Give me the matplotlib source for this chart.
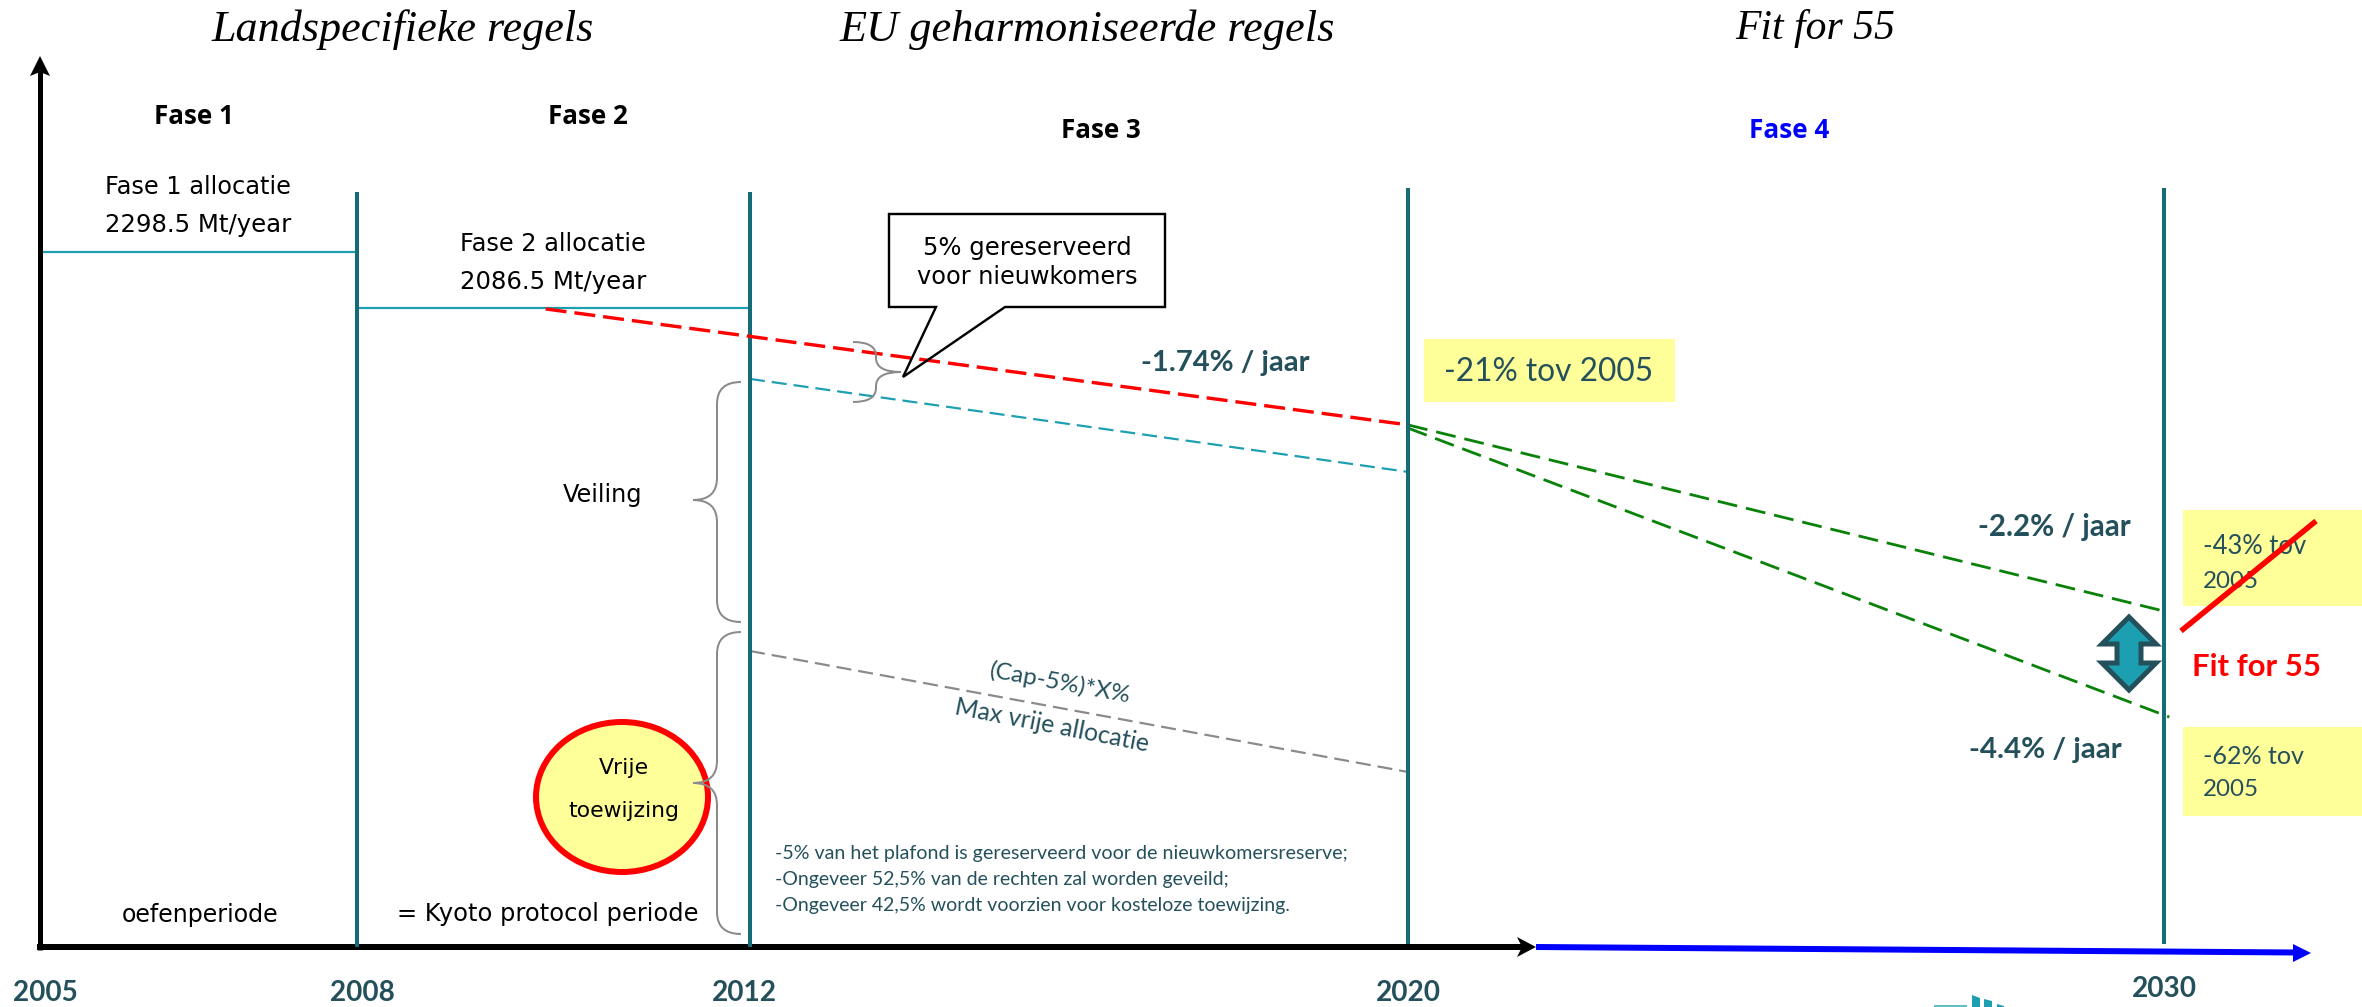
import numpy as np
import matplotlib
matplotlib.use("Agg")
import matplotlib.pyplot as plt
from matplotlib.patches import Polygon, Ellipse, Rectangle, PathPatch
from matplotlib.path import Path
from matplotlib.transforms import Affine2D

# ---------- data (years and Mt/year) ----------
YEAR_TICKS = [2005, 2008, 2012, 2020, 2030]
YEAR_LABELS = ["2005", "2008", "2012", "2020", "2030"]
PHASE_BOUNDS = [2008, 2012, 2020, 2030]

PHASE1_YEARS = [2005, 2008]
PHASE1_CAP = [2298.5, 2298.5]
PHASE2_YEARS = [2008, 2012]
PHASE2_CAP = [2086.5, 2086.5]
CAP_YEARS = [2009.92, 2020]
CAP_VALUES = [2083, 1644]
AUCTION_YEARS = [2012, 2020]
AUCTION_VALUES = [1818, 1466]
FREE_YEARS = [2012, 2020]
FREE_VALUES = [788, 330]
FF_LOW_YEARS = [2020, 2030]
FF_LOW_VALUES = [1644, 939]
FF_HIGH_YEARS = [2020, 2030.07]
FF_HIGH_VALUES = [1632, 538]

# ---------- styles ----------
W, H = 2362, 1007
TEAL = "#156b78"
CYAN = "#1c9fb0"
SLATE = "#24505c"
YELLOW = "#ffff99"
GRAY = "#8a8a8a"
GREEN = "#0a820a"
SCRIPT = "Liberation Serif"
SANS = "DejaVu Sans"
CAL = "Lato"
HEAD = "Open Sans"

plt.rcParams["lines.scale_dashes"] = False
PT = 0.72  # one pixel in points at dpi 100

fig = plt.figure(figsize=(W / 100, H / 100), dpi=100, facecolor="white")
ax = fig.add_axes([0, 0, 1, 1])
ax.axis("off")

# axis scales: the time axis of the schematic is piecewise linear
_yr = [2004.62, 2005, 2008, 2012, 2020, 2030, 2032.62]
_pos = [0, 40, 357, 750, 1408, 2164, 2362]
ax.set_xscale("function", functions=(lambda v: np.interp(v, _yr, _pos),
                                     lambda v: np.interp(v, _pos, _yr)))
ax.set_xlim(2004.62, 2032.62)
ax.set_ylim(-559.7, 3252.5)
ax.axis("off")

# pixel overlay for annotations (origin top-left)
px = Affine2D().scale(1, -1).translate(0, H)
renderer = fig.canvas.get_renderer()


def txt(x, y, s, width=None, size=20, color="black", family=SANS, weight="normal",
        style="normal", ha="center", rot=0, z=6):
    t = ax.text(x, y, s, transform=px, fontsize=size, color=color, family=family,
                weight=weight, style=style, ha=ha, va="center", rotation=0,
                rotation_mode="anchor", zorder=z)
    if width:
        w = t.get_window_extent(renderer).width
        t.set_fontsize(size * width / w)
    t.set_rotation(rot)
    return t


def poly(pts, fc, ec="none", lw=0, z=3):
    ax.add_patch(Polygon(pts, closed=True, transform=px, fc=fc, ec=ec, lw=lw * PT,
                         zorder=z, joinstyle="miter"))


def seg(xs, ys, color, lw, z=3, cap="butt"):
    ax.plot(xs, ys, transform=px, color=color, lw=lw * PT, zorder=z, solid_capstyle=cap)


def brace(xe, xs, xt, y0, ym, y1, r=22):
    """Curly brace from its two ends to its tip."""
    d = Path.CURVE3
    verts = [(xe, y0), (xs, y0), (xs, y0 + r), (xs, ym - r), (xs, ym), (xt, ym),
             (xs, ym), (xs, ym + r), (xs, y1 - r), (xs, y1), (xe, y1)]
    codes = [Path.MOVETO, d, d, Path.LINETO, d, d, d, d, Path.LINETO, d, d]
    ax.add_patch(PathPatch(Path(verts, codes), transform=px, fc="none", ec=GRAY,
                           lw=2 * PT, zorder=7))


# yellow note boxes
for x0, x1, y0, y1 in [(1424, 1675, 339, 402), (2183, 2362, 510, 606), (2183, 2362, 727, 816)]:
    ax.add_patch(Rectangle((x0, y0), x1 - x0, y1 - y0, transform=px, fc=YELLOW, ec="none", zorder=1))

# phase boundaries, from the years
for yr, top in zip(PHASE_BOUNDS, [192, 192, 188, 188]):
    bottom = -332 if yr <= 2012 else -320
    ytop = 2298.5 - (top - 252) * 212 / 56
    ax.plot([yr, yr], [bottom, ytop], color=TEAL, lw=4 * PT, zorder=4, solid_capstyle="butt")

# allocation lines
ax.plot(PHASE1_YEARS, PHASE1_CAP, color=CYAN, lw=2.2 * PT, zorder=3)
ax.plot(PHASE2_YEARS, PHASE2_CAP, color=CYAN, lw=2.2 * PT, zorder=3)
ax.plot(CAP_YEARS, CAP_VALUES, color="#ff0000", lw=3.4 * PT, ls=(0, (21 * PT, 8 * PT)), zorder=5)
ax.plot(AUCTION_YEARS, AUCTION_VALUES, color=CYAN, lw=2.2 * PT, ls=(0, (15 * PT, 7 * PT)), zorder=3)
ax.plot(FREE_YEARS, FREE_VALUES, color=GRAY, lw=2.2 * PT, ls=(0, (15 * PT, 7 * PT)), zorder=3)
ax.plot(FF_LOW_YEARS, FF_LOW_VALUES, color=GREEN, lw=2.8 * PT, ls=(0, (20 * PT, 9 * PT)), zorder=3)
ax.plot(FF_HIGH_YEARS, FF_HIGH_VALUES, color=GREEN, lw=2.8 * PT, ls=(0, (20 * PT, 9 * PT)), zorder=3)

# axes with arrow heads
seg([40, 40], [950, 70], "black", 5, z=5)
poly([(40, 56), (50, 76), (40, 72), (30, 76)], "black", z=5)
seg([37, 1525], [947, 947], "black", 6, z=3)
poly([(1536, 947), (1517, 937), (1522, 947), (1517, 957)], "black", z=5)
seg([1536, 2296], [947, 952.5], "#0000ff", 6, z=5)
poly([(2311, 953), (2293, 944), (2293, 962)], "#0000ff", z=5)

# braces
brace(853, 876, 901, 342, 372, 402, r=14)
brace(741, 717, 693, 382, 500, 622)
brace(741, 717, 693, 632, 783, 934)

# circle
ax.add_patch(Ellipse((622, 797), 172, 150, transform=px, fc=YELLOW, ec="#ff0000", lw=6 * PT, zorder=4))

# callout
poly([(889, 214), (1165, 214), (1165, 307), (1005, 307), (903, 377), (936, 307), (889, 307)],
     "none", ec="black", lw=2.4, z=8)
poly([(889, 214), (1165, 214), (1165, 307), (889, 307)], "white", z=2)

# double arrow
cx = 2129
poly([(cx, 617), (cx + 27, 644), (cx + 12, 644), (cx + 12, 663), (cx + 27, 663), (cx, 690),
      (cx - 27, 663), (cx - 12, 663), (cx - 12, 644), (cx - 27, 644)],
     CYAN, ec=SLATE, lw=5, z=6)

# struck-out note
seg([2181, 2316], [631, 521], "#ff0000", 5.5, z=8)

# logo fragment at the bottom edge
poly([(1934, 1005), (1967, 1005), (1967, 1007), (1934, 1007)], "#5fbcc8")
poly([(1972, 995), (1980, 998), (1980, 1007), (1972, 1007)], CYAN)
poly([(1984, 999), (1992, 1001), (1992, 1007), (1984, 1007)], CYAN)
poly([(1997, 1004), (2004, 1006), (2004, 1007), (1997, 1007)], CYAN)

# titles
txt(403, 30, "Landspecifieke regels", width=382, family=SCRIPT, style="italic")
txt(1087, 30, "EU geharmoniseerde regels", width=495, family=SCRIPT, style="italic")
txt(1815, 29, "Fit for 55", width=160, family=SCRIPT, style="italic")

# phases
for x, y, s, c in [(194, 117, "Fase 1", "black"), (588, 117, "Fase 2", "black"),
                   (1101, 131, "Fase 3", "black"), (1789, 131, "Fase 4", "#0000ff")]:
    txt(x, y, s, width=80, color=c, family=HEAD, weight="bold")

# black notes
txt(198, 187, "Fase 1 allocatie", width=185)
txt(198, 225, "2298.5 Mt/year", width=186)
txt(553, 244, "Fase 2 allocatie", width=185)
txt(553, 282, "2086.5 Mt/year", width=186)
txt(1027, 248, "5% gereserveerd", width=207)
txt(1027, 277, "voor nieuwkomers", width=221)
txt(603, 495, "Veiling", width=80)
txt(624, 768, "Vrije", width=50)
txt(624, 811, "toewijzing", width=111)
txt(200, 915, "oefenperiode", width=157)
txt(548, 914, "= Kyoto protocol periode", width=300)

# slate notes
txt(1225, 363, "-1.74% / jaar", width=169, color=SLATE, family=CAL, weight="bold")
txt(2054, 527, "-2.2% / jaar", width=153, color=SLATE, family=CAL, weight="bold")
txt(2045, 750, "-4.4% / jaar", width=153, color=SLATE, family=CAL, weight="bold")
txt(1444, 372, "-21% tov 2005", width=209, color=SLATE, family=CAL, ha="left")
txt(2203, 546, "-43% tov", width=103, color=SLATE, family=CAL, ha="left")
txt(2203, 582, "2005", width=56, color=SLATE, family=CAL, ha="left")
txt(2203, 756, "-62% tov", width=101, color=SLATE, family=CAL, ha="left")
txt(2203, 790, "2005", width=56, color=SLATE, family=CAL, ha="left")
txt(2192, 667, "Fit for 55", width=129, color="#ff0000", family=CAL, weight="bold", ha="left")
txt(1060, 683, "(Cap-5%)*X%", width=143, color=SLATE, family=CAL, rot=-10.4)
txt(1052, 726, "Max vrije allocatie", width=198, color=SLATE, family=CAL, rot=-11)
for y, s, w in [(853, "-5% van het plafond is gereserveerd voor de nieuwkomersreserve;", 573),
                (879, "-Ongeveer 52,5% van de rechten zal worden geveild;", 456),
                (905, "-Ongeveer 42,5% wordt voorzien voor kosteloze toewijzing.", 514)]:
    txt(775, y, s, width=w, color=SLATE, family=CAL, ha="left")

# year labels
for x, y, s in zip([45, 362, 744, 1408, 2164], [993, 993, 993, 993, 989], YEAR_LABELS):
    txt(x, y, s, width=65, color=SLATE, family=CAL, weight="bold")

fig.savefig("out.png", dpi=100, facecolor="white")
